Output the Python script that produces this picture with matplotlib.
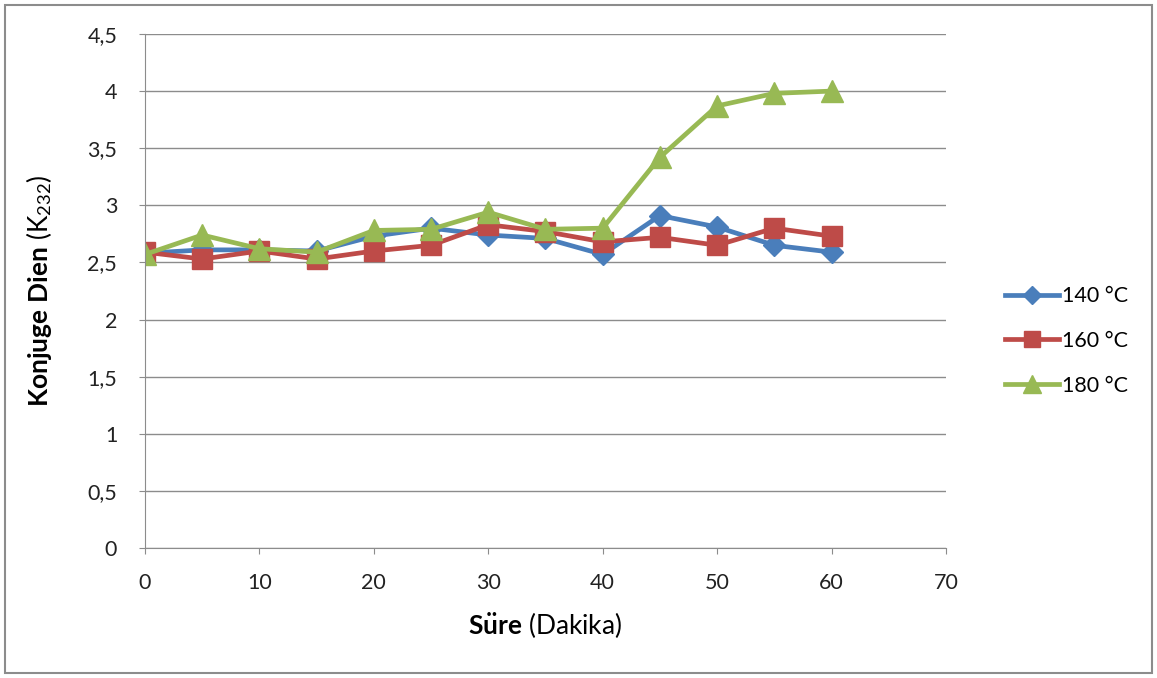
import matplotlib
matplotlib.use("Agg")
import matplotlib.pyplot as plt
from matplotlib.patches import Rectangle
from matplotlib.ticker import FuncFormatter

minutes = [0, 5, 10, 15, 20, 25, 30, 35, 40, 45, 50, 55, 60]
t140 = [2.58, 2.61, 2.61, 2.60, 2.73, 2.80, 2.74, 2.71, 2.57, 2.91, 2.81, 2.65, 2.59]
t160 = [2.59, 2.53, 2.60, 2.53, 2.60, 2.65, 2.83, 2.77, 2.68, 2.72, 2.65, 2.80, 2.73]
t180 = [2.57, 2.74, 2.62, 2.59, 2.78, 2.79, 2.94, 2.79, 2.80, 3.42, 3.87, 3.98, 4.00]
labels = ["140 °C", "160 °C", "180 °C"]

plt.rcParams['font.family'] = ['Lato', 'DejaVu Sans']
plt.rcParams['mathtext.fontset'] = 'custom'
plt.rcParams['mathtext.rm'] = 'Lato'
plt.rcParams['mathtext.bf'] = 'Lato:bold'
plt.rcParams['mathtext.it'] = 'Lato:italic'

fig = plt.figure(figsize=(11.57, 6.78), dpi=100)
ax = fig.add_axes([0.1253, 0.1917, 0.8176 - 0.1253, 0.9499 - 0.1917])

fig.patches.append(Rectangle((0.004, 0.008), 0.992, 0.984, transform=fig.transFigure,
                             fill=False, edgecolor='#8c8c8c', linewidth=1.5))

ax.plot(minutes, t140, color='#4A7EBB', lw=3.4, marker='D', ms=11, label=labels[0])
ax.plot(minutes, t160, color='#BE4B48', lw=3.4, marker='s', ms=14, label=labels[1])
ax.plot(minutes, t180, color='#98B954', lw=3.4, marker='^', ms=16, label=labels[2])

ax.set_xlim(0, 70)
ax.set_ylim(0, 4.5)
ax.set_xticks(range(0, 71, 10))
ax.set_yticks([0, 0.5, 1, 1.5, 2, 2.5, 3, 3.5, 4, 4.5])
ax.yaxis.set_major_formatter(FuncFormatter(lambda v, p: ('%g' % v).replace('.', ',')))
ax.grid(axis='y', color='#8c8c8c', lw=1)
ax.set_axisbelow(True)
for s in ['top', 'right']:
    ax.spines[s].set_visible(False)
for s in ['left', 'bottom']:
    ax.spines[s].set_color('#8c8c8c')
ax.tick_params(axis='both', labelsize=15.5, colors='#222222', length=4, color='#8c8c8c')
ax.tick_params(axis='x', pad=14)
ax.tick_params(axis='y', pad=16)

ax.set_xlabel(r"$\mathbf{S\ddot{u}re}$ (Dakika)", fontsize=19, labelpad=12)
ax.set_ylabel(r"$\mathbf{Konjuge\ Dien}$ (K$_{232}$)", fontsize=19, labelpad=24)

leg = ax.legend(loc='center left', bbox_to_anchor=(0.852, 0.497), bbox_transform=fig.transFigure,
                frameon=False, fontsize=15.5, handlelength=2.5, labelspacing=1.15,
                handletextpad=0.15, markerscale=0.8)

fig.savefig('out.png', dpi=100)
